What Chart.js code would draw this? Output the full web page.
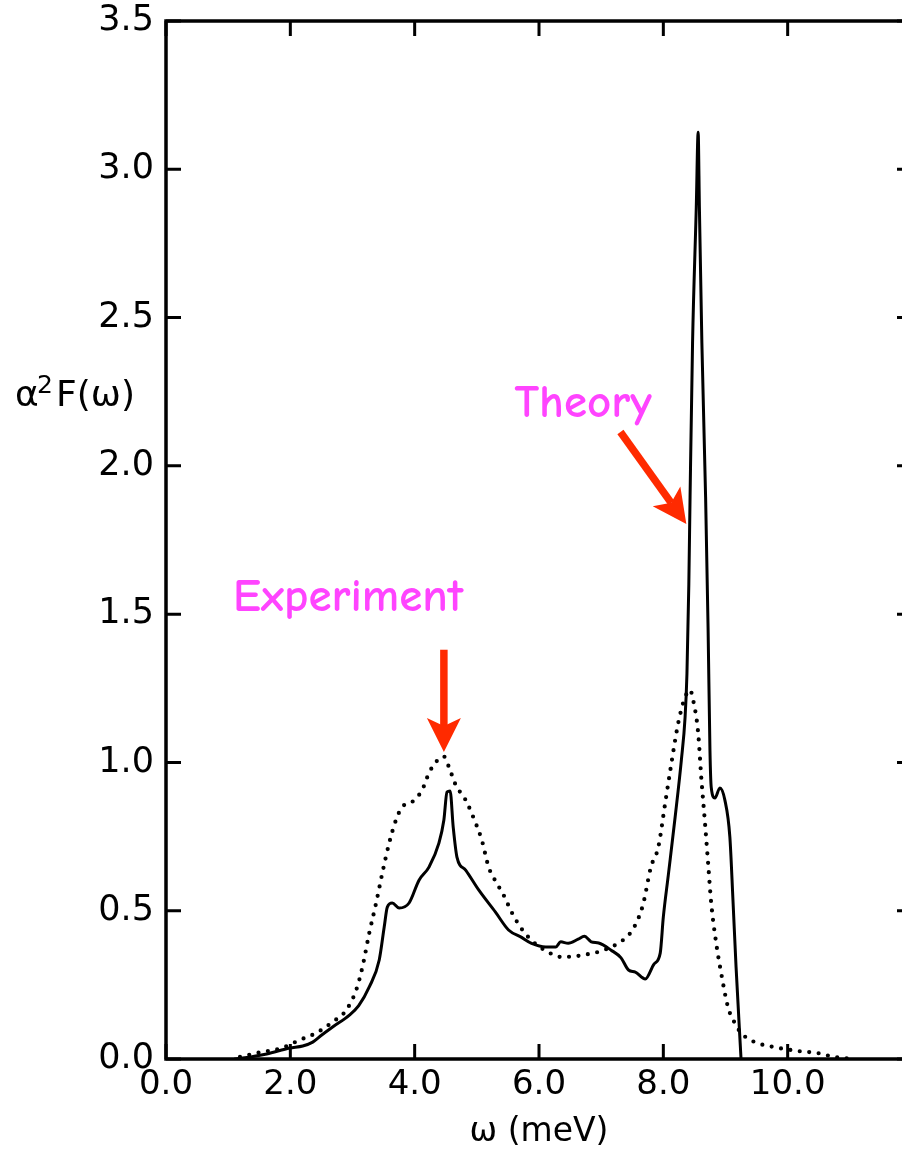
<!DOCTYPE html>
<html>
<head>
<meta charset="utf-8">
<script src="https://cdn.jsdelivr.net/npm/chart.js@4.4.0/dist/chart.umd.min.js"></script>
<style>
  html, body { margin: 0; padding: 0; background: #fff; overflow: hidden; width: 902px; height: 1149px; }
  #wrap { position: absolute; left: 0; top: 0; width: 930px; height: 1149px; }
</style>
</head>
<body>
<div id="wrap"><canvas id="a2fChart" width="930" height="1149"></canvas></div>
<script>
// theory (solid line)
const theoryW = [1.10, 1.23, 1.62, 1.99, 2.20, 2.36, 2.50, 2.68, 2.95, 3.10, 3.27, 3.43, 3.51, 3.56, 3.64, 3.75, 3.91, 4.07, 4.23, 4.39, 4.47, 4.52, 4.57, 4.62, 4.68, 4.82, 5.03, 5.30, 5.51, 5.72, 5.88, 6.11, 6.27, 6.35, 6.47, 6.63, 6.73, 6.84, 6.96, 7.16, 7.32, 7.44, 7.55, 7.71, 7.85, 7.95, 8.00, 8.08, 8.19, 8.29, 8.35, 8.38, 8.41, 8.43, 8.47, 8.53, 8.56, 8.58, 8.62, 8.68, 8.72, 8.75, 8.77, 8.83, 8.91, 8.99, 9.07, 9.12, 9.17, 9.25];
const theoryA2F = [0.000, 0.003, 0.017, 0.037, 0.044, 0.057, 0.080, 0.108, 0.148, 0.180, 0.243, 0.334, 0.445, 0.512, 0.526, 0.509, 0.526, 0.603, 0.647, 0.728, 0.806, 0.900, 0.904, 0.782, 0.681, 0.637, 0.570, 0.495, 0.435, 0.410, 0.390, 0.378, 0.378, 0.395, 0.390, 0.404, 0.414, 0.395, 0.391, 0.367, 0.341, 0.300, 0.293, 0.270, 0.320, 0.357, 0.479, 0.620, 0.816, 1.008, 1.153, 1.300, 1.600, 1.895, 2.414, 2.873, 3.125, 2.873, 2.414, 1.895, 1.450, 1.040, 0.917, 0.880, 0.914, 0.873, 0.749, 0.536, 0.310, 0.000];

// experiment (dotted line)
const exptW = [1.19, 1.46, 1.86, 2.15, 2.42, 2.68, 2.90, 3.06, 3.16, 3.27, 3.38, 3.48, 3.59, 3.70, 3.80, 3.96, 4.12, 4.23, 4.34, 4.47, 4.55, 4.66, 4.82, 4.98, 5.08, 5.19, 5.30, 5.43, 5.56, 5.70, 5.88, 6.15, 6.36, 6.60, 6.87, 7.00, 7.28, 7.47, 7.60, 7.68, 7.80, 7.92, 8.03, 8.12, 8.24, 8.35, 8.43, 8.48, 8.56, 8.61, 8.67, 8.72, 8.77, 8.85, 8.93, 9.04, 9.15, 9.25, 9.47, 9.79, 10.16, 10.48, 10.75, 11.07];
const exptA2F = [0.007, 0.020, 0.037, 0.064, 0.088, 0.125, 0.165, 0.233, 0.310, 0.425, 0.526, 0.627, 0.728, 0.806, 0.850, 0.867, 0.907, 0.964, 1.001, 1.020, 0.985, 0.924, 0.873, 0.796, 0.738, 0.647, 0.600, 0.553, 0.495, 0.445, 0.400, 0.360, 0.344, 0.347, 0.357, 0.364, 0.391, 0.425, 0.475, 0.526, 0.647, 0.715, 0.863, 0.984, 1.133, 1.220, 1.244, 1.210, 1.100, 0.950, 0.796, 0.661, 0.526, 0.391, 0.290, 0.175, 0.121, 0.088, 0.057, 0.040, 0.027, 0.020, 0.007, 0.000];

const xTicks = [0, 2, 4, 6, 8, 10, 12];
const yTicks = [0, 0.5, 1.0, 1.5, 2.0, 2.5, 3.0, 3.5];

// annotations: label, text position, arrow start and tip (data units)
const notes = [
  { text: 'Experiment', at: [2.93, 1.51], from: [4.47, 1.38], to: [4.47, 1.035] },
  { text: 'Theory', at: [6.71, 2.165], from: [7.31, 2.114], to: [8.37, 1.804] }
];

const axisFont = '"DejaVu Sans", sans-serif';

function toPoints(xs, ys) {
  return xs.map((x, i) => ({ x: x, y: ys[i] }));
}

function drawArrow(ctx, x0, y0, x1, y1) {
  const dx = x1 - x0, dy = y1 - y0;
  const len = Math.hypot(dx, dy);
  const ux = dx / len, uy = dy / len;
  const px = -uy, py = ux;
  const headLen = 34, headHalf = 17, notch = 26;
  const bx = x1 - ux * headLen, by = y1 - uy * headLen;
  const nx = x1 - ux * notch, ny = y1 - uy * notch;
  ctx.save();
  ctx.strokeStyle = '#ff2a00';
  ctx.fillStyle = '#ff2a00';
  ctx.lineWidth = 7.5;
  ctx.lineCap = 'butt';
  ctx.beginPath();
  ctx.moveTo(x0, y0);
  ctx.lineTo(nx, ny);
  ctx.stroke();
  ctx.beginPath();
  ctx.moveTo(x1, y1);
  ctx.lineTo(bx + px * headHalf, by + py * headHalf);
  ctx.lineTo(nx, ny);
  ctx.lineTo(bx - px * headHalf, by - py * headHalf);
  ctx.closePath();
  ctx.fill();
  ctx.restore();
}

const framePlugin = {
  id: 'frame',
  afterDraw(chart) {
    const ctx = chart.ctx;
    const a = chart.chartArea;
    const xs = chart.scales.x, ys = chart.scales.y;
    const tick = 15;

    ctx.save();
    ctx.strokeStyle = '#000';
    ctx.lineWidth = 3.5;
    ctx.strokeRect(a.left, a.top, a.right - a.left, a.bottom - a.top);

    // inward tick marks on all four sides
    ctx.lineWidth = 3;
    ctx.beginPath();
    xTicks.forEach(v => {
      const px = xs.getPixelForValue(v);
      ctx.moveTo(px, a.bottom); ctx.lineTo(px, a.bottom - tick);
      ctx.moveTo(px, a.top); ctx.lineTo(px, a.top + tick);
    });
    yTicks.forEach(v => {
      const py = ys.getPixelForValue(v);
      ctx.moveTo(a.left, py); ctx.lineTo(a.left + tick, py);
      ctx.moveTo(a.right, py); ctx.lineTo(a.right - tick, py);
    });
    ctx.stroke();

    // y axis title, horizontal with superscript
    ctx.fillStyle = '#000';
    ctx.textBaseline = 'alphabetic';
    ctx.textAlign = 'left';
    ctx.font = '36px ' + axisFont;
    ctx.fillText('\u03b1', 15, 406);
    ctx.font = '25px ' + axisFont;
    ctx.fillText('2', 37, 393);
    ctx.font = '36px ' + axisFont;
    ctx.fillText('F(\u03c9)', 56, 406);

    // annotations
    ctx.font = 'bold 47px "Comic Sans MS", "Comic Neue", Lato, sans-serif';
    ctx.fillStyle = '#ff44ff';
    ctx.textAlign = 'center';
    notes.forEach(n => {
      ctx.fillText(n.text, xs.getPixelForValue(n.at[0]), ys.getPixelForValue(n.at[1]));
      drawArrow(ctx,
        xs.getPixelForValue(n.from[0]), ys.getPixelForValue(n.from[1]),
        xs.getPixelForValue(n.to[0]), ys.getPixelForValue(n.to[1]));
    });
    ctx.restore();
  }
};

function noOverhang(s) {
  s.paddingTop = 0;
  s.paddingBottom = 0;
  s.paddingLeft = 0;
  s.paddingRight = 0;
}

const ctx = document.getElementById('a2fChart').getContext('2d');
new Chart(ctx, {
  type: 'line',
  data: {
    datasets: [
      {
        label: 'Theory',
        data: toPoints(theoryW, theoryA2F),
        borderColor: '#000',
        borderWidth: 3,
        borderJoinStyle: 'round',
        pointRadius: 0,
        cubicInterpolationMode: 'monotone',
        fill: false
      },
      {
        label: 'Experiment',
        data: toPoints(exptW, exptA2F),
        borderColor: '#000',
        borderWidth: 4.2,
        borderDash: [0, 9.5],
        borderCapStyle: 'round',
        pointRadius: 0,
        cubicInterpolationMode: 'monotone',
        fill: false
      }
    ]
  },
  options: {
    responsive: false,
    animation: false,
    devicePixelRatio: 1,
    layout: { padding: { left: 0, right: 18, top: 21, bottom: 0 } },
    plugins: {
      legend: { display: false },
      tooltip: { enabled: false }
    },
    scales: {
      x: {
        type: 'linear',
        min: 0,
        max: 12,
        afterFit: s => { s.height = 90; noOverhang(s); },
        afterBuildTicks: s => { s.ticks = xTicks.map(v => ({ value: v })); },
        grid: { display: false, drawTicks: false },
        border: { display: false },
        ticks: {
          color: '#000',
          padding: 6,
          maxRotation: 0,
          autoSkip: false,
          font: { family: axisFont, size: 34 },
          callback: v => (v === 12 ? '' : v.toFixed(1))
        },
        title: {
          display: true,
          text: '\u03c9 (meV)',
          color: '#000',
          padding: { top: 0, bottom: 0 },
          font: { family: axisFont, size: 33, lineHeight: 1.0 }
        }
      },
      y: {
        min: 0,
        max: 3.5,
        afterFit: s => { s.width = 166; noOverhang(s); },
        afterBuildTicks: s => { s.ticks = yTicks.map(v => ({ value: v })); },
        grid: { display: false, drawTicks: false },
        border: { display: false },
        ticks: {
          color: '#000',
          padding: 12,
          font: { family: axisFont, size: 35 },
          callback: v => v.toFixed(1)
        }
      }
    }
  },
  plugins: [framePlugin]
});
</script>
</body>
</html>
